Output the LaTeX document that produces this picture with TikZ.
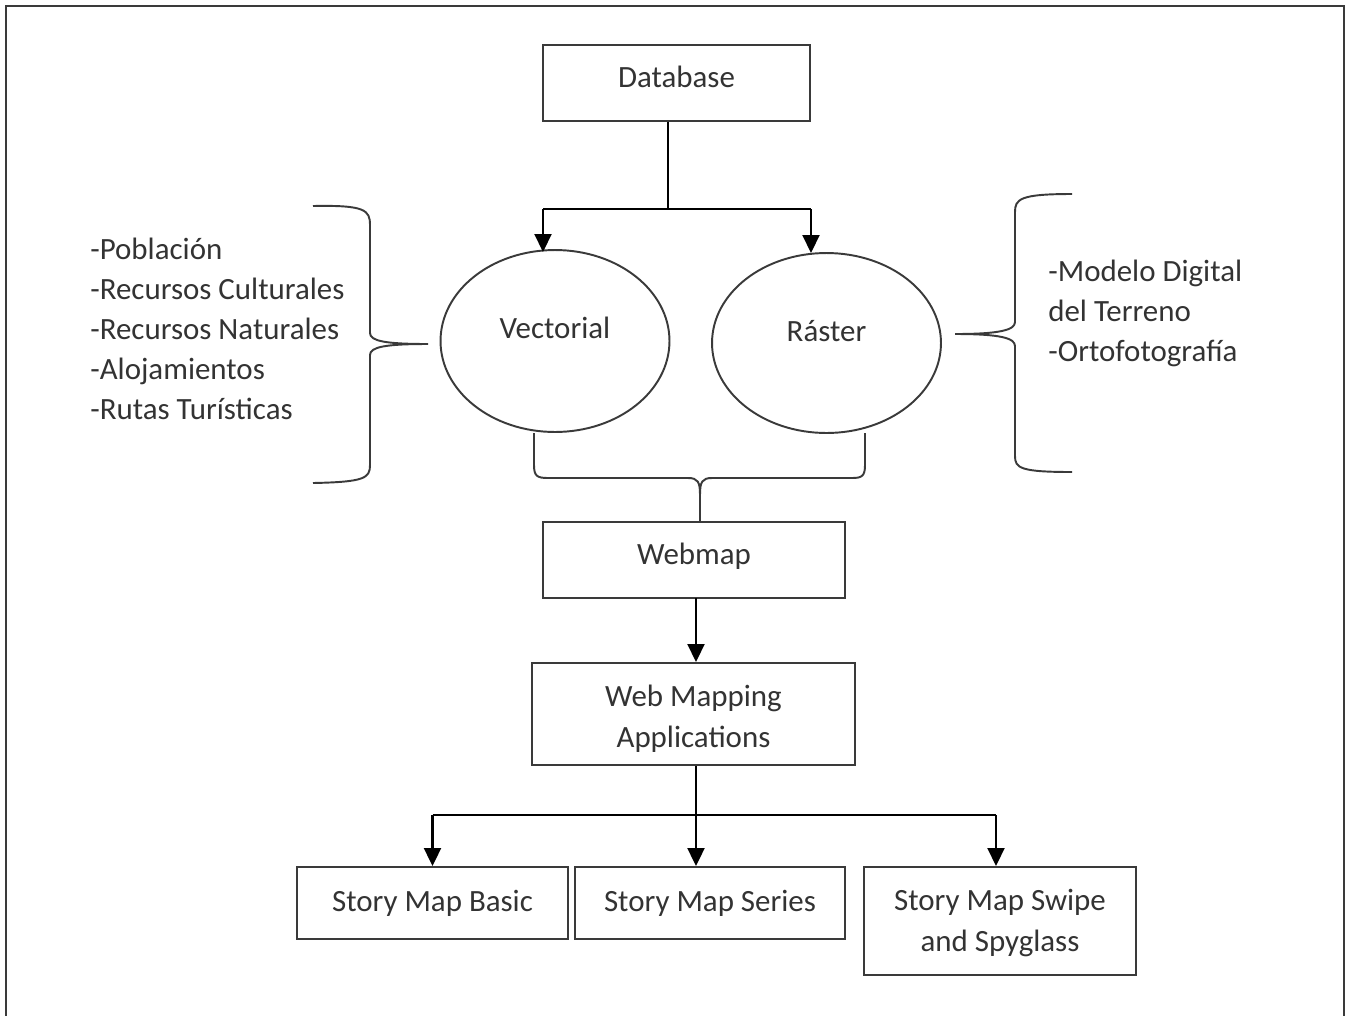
\documentclass[tikz,border=0pt]{standalone}
\usepackage{fontspec}
\setmainfont{Carlito}
\usetikzlibrary{arrows.meta,shapes.geometric}
\definecolor{ink}{HTML}{333333}
\definecolor{rule}{HTML}{3A3A3A}
\tikzstyle{box}=[shape=rectangle,draw=rule,line width=1.1pt,text=ink,align=center,inner sep=0pt]
\tikzstyle{blob}=[shape=ellipse,draw=rule,line width=1.1pt,text=ink,inner sep=0pt]
\tikzstyle{list}=[text=ink,align=left,inner sep=0pt]
\tikzstyle{flow}=[-{Triangle[width=0.34cm,length=0.36cm]},line width=1.2pt,black]
\tikzstyle{curly}=[line width=1.1pt,draw=rule]
% move a label up or down inside its shape
\newcommand{\up}[2]{\raisebox{0pt}[\height][\dimexpr\depth+#1*2\relax]{#2}}
\newcommand{\down}[2]{\raisebox{0pt}[\dimexpr\height+#1*2\relax][\depth]{#2}}
\newcommand{\twolines}[2]{\begin{tabular}{@{}c@{}}#1\\#2\end{tabular}}

\begin{document}
\begin{tikzpicture}[x=0.02cm,y=-0.02cm,font=\fontsize{17.6pt}{22.8pt}\selectfont]
\useasboundingbox (0,0) rectangle (1346,1015);
\draw[line width=1.2pt,draw=rule] (6,1020) -- (6,6) -- (1344,6) -- (1344,1020);
% boxes
\node[box,minimum width=5.34cm,minimum height=1.52cm] (db) at (676.5,83) {\up{0.12cm}{Database}};
\node[blob,minimum width=4.58cm,minimum height=3.64cm] (vec) at (555,341) {\up{0.26cm}{Vectorial}};
\node[blob,minimum width=4.58cm,minimum height=3.6cm] (ras) at (826.5,343) {\up{0.24cm}{Ráster}};
\node[box,minimum width=6.04cm,minimum height=1.52cm] (web) at (694,560) {\up{0.07cm}{Webmap}};
\node[box,minimum width=6.46cm,minimum height=2.04cm] (wma) at (693.5,714) {\down{0.1cm}{\twolines{Web Mapping}{Applications}}};
\node[box,minimum width=5.42cm,minimum height=1.44cm] (smb) at (432.5,903) {Story Map Basic};
\node[box,minimum width=5.4cm,minimum height=1.44cm] (sms) at (710,903) {Story Map Series};
\node[box,minimum width=5.44cm,minimum height=2.16cm] (smw) at (1000,921) {\down{0.04cm}{\twolines{Story Map Swipe}{and Spyglass}}};
% lists
\node[list,anchor=west] (vlist) at (90,329) {-Población\\-Recursos Culturales\\-Recursos Naturales\\-Alojamientos\\-Rutas Turísticas};
\node[list,anchor=west] (rlist) at (1048,313) {-Modelo Digital\\del Terreno\\-Ortofotografía};
% connectors
\coordinate (split1) at (668,209);
\coordinate (jl) at (543,209);
\coordinate (jr) at (811,209);
\draw[line width=1.2pt,black] (split1 |- db.south) -- (split1);
\draw[line width=1.2pt,black] (jl) -- (jr);
\draw[flow] (jl) -- (543,252);
\draw[flow] (jr) -- (811,253);
\draw[flow] (696,598) -- (696,662);
\coordinate (split2) at (696,815);
\draw[line width=1.2pt,black] (split2 |- wma.south) -- (split2);
\draw[line width=1.2pt,black] (smb.north |- split2) -- (996,815);
\draw[flow] (smb.north |- split2) -- (smb.north);
\draw[flow] (split2) -- (split2 |- sms.north);
\draw[flow] (996,815) -- (996,866);
% braces
\draw[curly] (313,206) .. controls (365,205) and (370,210) .. (370,225) -- (370,333)
  .. controls (370,341) and (385,344) .. (428,344)
  .. controls (385,344) and (370,347) .. (370,355) -- (370,465)
  .. controls (370,478) and (365,482) .. (313,483);
\draw[curly] (1072,194) .. controls (1020,194) and (1015,199) .. (1015,212) -- (1015,322)
  .. controls (1015,330) and (1000,334) .. (955,334)
  .. controls (1000,334) and (1015,338) .. (1015,346) -- (1015,456)
  .. controls (1015,468) and (1020,472) .. (1072,472);
\draw[curly] (534,433) -- (534,465) .. controls (534,476) and (537,478) .. (548,478) -- (688,478)
  .. controls (698,478) and (700,482) .. (700,495) -- (700,521);
\draw[curly] (865,433) -- (865,465) .. controls (865,476) and (862,478) .. (852,478) -- (712,478)
  .. controls (702,478) and (700,482) .. (700,495);
\end{tikzpicture}
\end{document}
